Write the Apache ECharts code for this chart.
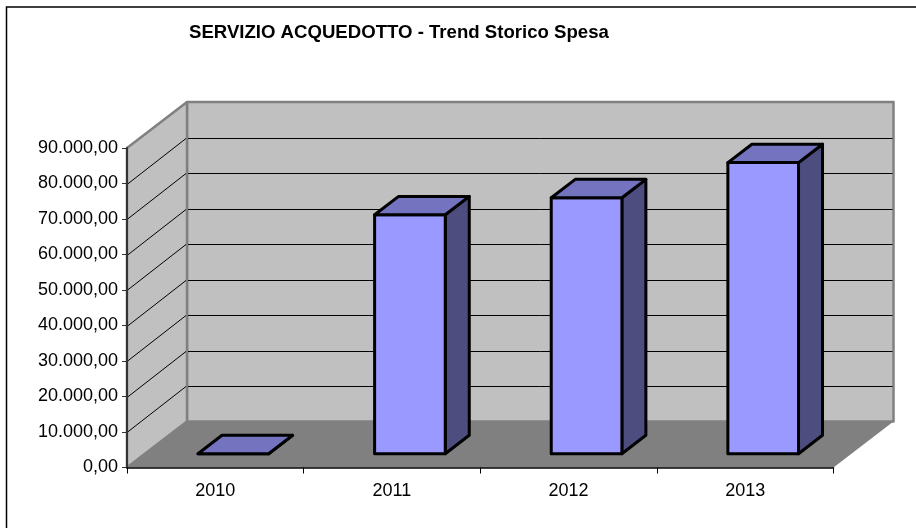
<!DOCTYPE html>
<html><head><meta charset="utf-8">
<style>html,body{margin:0;padding:0;background:#fff}#c{width:916px;height:528px}</style>
<script src="https://cdn.jsdelivr.net/npm/echarts@6/dist/echarts.min.js"></script>
</head><body><div id="c"></div>
<script>
const categories = ['2010','2011','2012','2013'];
const spesa = [0, 67300, 72100, 82000];
const yTicks = [0,10000,20000,30000,40000,50000,60000,70000,80000,90000];
const titleText = 'SERVIZIO ACQUEDOTTO - Trend Storico Spesa';

const DX = 60, DY = -46;           // depth of the 3D box
const BAR_D = 0.3, BAR_E = 0.7;    // bar start / end in depth fraction
const BAR_W = 0.4;                 // bar width as part of category band

function fmt(v){
  const s = Math.round(v).toString().replace(/\B(?=(\d{3})+$)/g,'.');
  return s + ',00';
}
function poly(pts, fill, stroke, lw){
  return {type:'polygon', shape:{points:pts}, style:{fill:fill, stroke:stroke||null, lineWidth:lw||0, lineJoin:'round'}, silent:true};
}
function line(a,b,stroke,lw){
  return {type:'line', shape:{x1:a[0],y1:a[1],x2:b[0],y2:b[1]}, style:{stroke:stroke,lineWidth:lw}, silent:true};
}
function renderWalls(params, api){
  const cs = params.coordSys;
  const x0 = cs.x, x1 = cs.x+cs.width, y1 = cs.y+cs.height, y0 = cs.y;
  const ch = [];
  ch.push(poly([[x0+DX,y0+DY],[x1+DX,y0+DY],[x1+DX,y1+DY],[x0+DX,y1+DY]],'#c0c0c0','#808080',2.5));
  ch.push(poly([[x0,y0],[x0+DX,y0+DY],[x0+DX,y1+DY],[x0,y1]],'#c0c0c0','#808080',2.5));
  ch.push(poly([[x0,y1],[x1,y1],[x1+DX,y1+DY],[x0+DX,y1+DY]],'#808080'));
  yTicks.slice(1,-1).forEach(function(v){
    const y = Math.round(api.coord([0,v])[1])+0.5;
    ch.push(line([x0,y],[x0+DX-1,y+DY],'#000',1));
    ch.push(line([x0+DX+1,y+DY],[x1+DX-1,y+DY],'#000',1));
  });
  return {type:'group',children:ch};
}
function renderBar(params, api){
  const i = api.value(0), v = api.value(1);
  const c = api.coord([i,v]), b = api.coord([i,0]);
  const band = api.size([1,0])[0];
  const w = band*BAR_W;
  const ox = BAR_D*DX, oy = BAR_D*DY;
  const dx = (BAR_E-BAR_D)*DX, dy = (BAR_E-BAR_D)*DY;
  const l = c[0]-w/2+ox, r = l+w;
  const t = c[1]+oy, bt = b[1]+oy;
  const S='#000', LW=3;
  return {type:'group',children:[
    poly([[r,t],[r+dx,t+dy],[r+dx,bt+dy],[r,bt]],'#4d4d80',S,LW),
    poly([[l,bt],[r,bt],[r,t],[l,t]],'#9999ff',S,LW),
    poly([[l,t],[r,t],[r+dx,t+dy],[l+dx,t+dy]],'#7373bf',S,LW)
  ]};
}
const chart = echarts.init(document.getElementById('c'));
chart.setOption({
  animation:false,
  backgroundColor:'#fff',
  title:{text:titleText,left:189,top:23,padding:0,textStyle:{fontFamily:'Liberation Sans',fontSize:18.6,fontWeight:'bold',color:'#000'}},
  graphic:[{type:'polyline',shape:{points:[[6.5,528],[6.5,7],[916,7]]},style:{fill:'none',stroke:'#000',lineWidth:1.5},silent:true,z:-1}],
  grid:{left:127,right:82.5,top:148,bottom:60.5,containLabel:false},
  xAxis:{type:'category',data:categories,boundaryGap:true,z:5,
    axisLine:{lineStyle:{color:'#000',width:1.5}},
    axisTick:{show:true,alignWithLabel:false,length:6,lineStyle:{color:'#000'}},
    axisLabel:{color:'#000',fontFamily:'Liberation Sans',fontSize:18,margin:15},splitLine:{show:false}},
  yAxis:{type:'value',min:0,max:90000,interval:10000,z:5,
    axisLine:{show:true,lineStyle:{color:'#333',width:2}},
    axisTick:{show:true,length:5,lineStyle:{color:'#333',width:1}},
    axisLabel:{color:'#000',fontFamily:'Liberation Sans',fontSize:18,margin:9,padding:[4,0,0,0],formatter:fmt},splitLine:{show:false}},
  series:[
    {type:'custom',name:'walls',silent:true,z:1,renderItem:renderWalls,data:[[0,0]],clip:false},
    {type:'custom',name:'Spesa',z:2,renderItem:renderBar,clip:false,encode:{x:0,y:1},
     data:spesa.map(function(v,i){return [i,v];})}
  ]
});
</script></body></html>
